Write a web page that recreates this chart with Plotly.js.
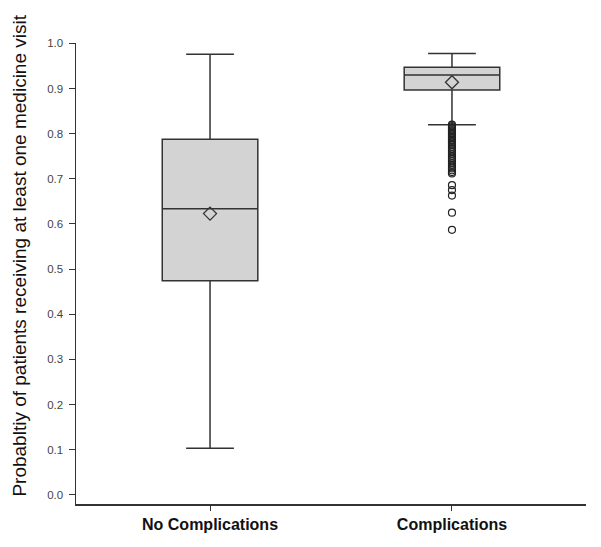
<!DOCTYPE html>
<html>
<head>
<meta charset="utf-8">
<script src="https://cdn.plot.ly/plotly-3.0.1.min.js"></script>
<style>html,body{margin:0;padding:0;background:#fff;}#chart{width:601px;height:547px;}</style>
</head>
<body>
<div id="chart"></div>
<script>
var categories = ['No Complications', 'Complications'];
var q1Values = [0.474, 0.897];
var medianValues = [0.634, 0.930];
var q3Values = [0.788, 0.9475];
var lowerWhisker = [0.103, 0.820];
var upperWhisker = [0.976, 0.978];
var meanValues = [0.623, 0.914];
var outlierValues = [0.820, 0.817, 0.814, 0.811, 0.808, 0.805, 0.802, 0.799, 0.796, 0.793,
  0.790, 0.787, 0.784, 0.781, 0.778, 0.775, 0.771, 0.767, 0.763, 0.759, 0.755, 0.751,
  0.747, 0.743, 0.739, 0.735, 0.731, 0.727, 0.723, 0.719, 0.715, 0.712,
  0.686, 0.675, 0.663, 0.625, 0.587];
var outlierCategory = 'Complications';
var yTickValues = [0, 0.1, 0.2, 0.3, 0.4, 0.5, 0.6, 0.7, 0.8, 0.9, 1.0];
var yTitle = 'Probabltiy of patients receiving at least one medicine visit';

var boxTrace = {
  type: 'box',
  x: categories,
  q1: q1Values,
  median: medianValues,
  q3: q3Values,
  lowerfence: lowerWhisker,
  upperfence: upperWhisker,
  boxpoints: false,
  width: 0.395,
  whiskerwidth: 0.5,
  fillcolor: '#d3d3d3',
  line: {color: '#333333', width: 1.5},
  hoverinfo: 'skip',
  showlegend: false
};

var meanTrace = {
  type: 'scatter',
  mode: 'markers',
  x: categories,
  y: meanValues,
  marker: {symbol: 'diamond-open', size: 10, color: '#333333', line: {width: 1.3, color: '#333333'}},
  showlegend: false,
  hoverinfo: 'skip'
};

var outlierTrace = {
  type: 'scatter',
  mode: 'markers',
  x: outlierValues.map(function(){ return outlierCategory; }),
  y: outlierValues,
  marker: {symbol: 'circle-open', size: 7, color: '#222222', line: {width: 1.2, color: '#222222'}},
  showlegend: false,
  hoverinfo: 'skip'
};

var layout = {
  width: 601,
  height: 547,
  margin: {l: 76, r: 15, t: 43, b: 43, pad: 0},
  paper_bgcolor: '#ffffff',
  plot_bgcolor: '#ffffff',
  font: {family: 'Liberation Sans, Arial, sans-serif', color: '#333333'},
  xaxis: {
    type: 'category',
    categoryorder: 'array',
    categoryarray: categories,
    range: [-0.554, 1.554],
    showgrid: false,
    zeroline: false,
    showline: true,
    linecolor: '#333333',
    linewidth: 1.5,
    ticks: 'outside',
    ticklen: 5,
    tickwidth: 1,
    tickcolor: '#333333',
    tickfont: {size: 16, color: '#111111', weight: 'bold', family: 'Liberation Sans, Arial, sans-serif'}
  },
  yaxis: {
    range: [-0.0205, 1.001],
    tickvals: yTickValues,
    tickformat: '.1f',
    showgrid: false,
    zeroline: false,
    showline: true,
    linecolor: '#333333',
    linewidth: 1.5,
    ticks: 'outside',
    ticklen: 6,
    tickwidth: 1,
    tickcolor: '#333333',
    ticklabelstandoff: 3,
    tickfont: {size: 11.5, color: '#444444'}
  },
  annotations: [{
    text: yTitle,
    xref: 'paper', yref: 'paper',
    x: -0.11, y: 0.5386,
    xanchor: 'center', yanchor: 'middle',
    textangle: -90,
    showarrow: false,
    font: {size: 19, color: '#111111', family: 'Liberation Sans, Arial, sans-serif'}
  }]
};

Plotly.newPlot('chart', [boxTrace, outlierTrace, meanTrace], layout, {displayModeBar: false, staticPlot: true});
</script>
</body>
</html>
